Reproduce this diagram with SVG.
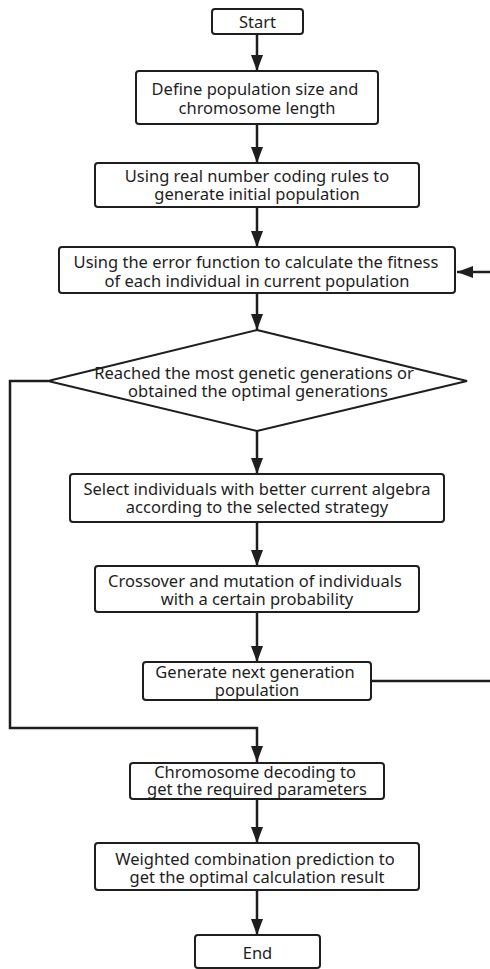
<svg xmlns="http://www.w3.org/2000/svg" width="490" height="969" viewBox="0 0 490 969">
<defs>
<marker id="ah" viewBox="0 0 16 12" refX="16" refY="6" markerWidth="16" markerHeight="12" orient="auto" markerUnits="userSpaceOnUse">
<path d="M0 0 L16 6 L0 12 Z" fill="#1e1e1e"/>
</marker>
<style>
.box{fill:#fff;stroke:#1e1e1e;stroke-width:2}
.t{font-family:"Noto Sans","Open Sans","DejaVu Sans",sans-serif;font-size:16.5px;fill:#1e1e1e;text-anchor:middle}
.c{fill:none;stroke:#1e1e1e;stroke-width:2.5}
</style>
</defs>
<rect width="490" height="969" fill="#fff"/>
<g id="connectors">
<path class="c" d="M257 34 V71" marker-end="url(#ah)"/>
<path class="c" d="M257 124 V163" marker-end="url(#ah)"/>
<path class="c" d="M257 207 V247" marker-end="url(#ah)"/>
<path class="c" d="M257 293 V330" marker-end="url(#ah)"/>
<path class="c" d="M257 431 V474" marker-end="url(#ah)"/>
<path class="c" d="M257 522 V566" marker-end="url(#ah)"/>
<path class="c" d="M257 612 V662" marker-end="url(#ah)"/>
<path class="c" d="M371 681 H491.5 V272 H457" marker-end="url(#ah)"/>
<path class="c" d="M48 381 H10 V728 H257 V762" marker-end="url(#ah)"/>
<path class="c" d="M257 799 V843" marker-end="url(#ah)"/>
<path class="c" d="M257 890 V935" marker-end="url(#ah)"/>
</g>
<g id="start">
<rect class="box" x="212" y="9" width="91" height="25" rx="3"/>
<text class="t" x="257.5" y="28">Start</text>
</g>
<g id="define">
<rect class="box" x="136" y="71" width="242" height="53" rx="3"/>
<text class="t" x="255" y="95">Define population size and</text>
<text class="t" x="257" y="114">chromosome length</text>
</g>
<g id="coding">
<rect class="box" x="95" y="163" width="324" height="44" rx="3"/>
<text class="t" x="257" y="182">Using real number coding rules to</text>
<text class="t" x="257" y="200">generate initial population</text>
</g>
<g id="fitness">
<rect class="box" x="59" y="247" width="396" height="46" rx="3"/>
<text class="t" x="256" y="268">Using the error function to calculate the fitness</text>
<text class="t" x="257" y="287">of each individual in current population</text>
</g>
<g id="decision">
<path class="box" d="M257 330 L467 381 L257 431 L48 381 Z"/>
<text class="t" x="254" y="379">Reached the most genetic generations or</text>
<text class="t" x="258" y="397">obtained the optimal generations</text>
</g>
<g id="select">
<rect class="box" x="70" y="474" width="374" height="48" rx="3"/>
<text class="t" x="257" y="495">Select individuals with better current algebra</text>
<text class="t" x="257" y="513">according to the selected strategy</text>
</g>
<g id="crossover">
<rect class="box" x="95" y="566" width="324" height="46" rx="3"/>
<text class="t" x="255" y="587">Crossover and mutation of individuals</text>
<text class="t" x="257" y="605">with a certain probability</text>
</g>
<g id="nextgen">
<rect class="box" x="143" y="662" width="228" height="38" rx="3"/>
<text class="t" x="255" y="678">Generate next generation</text>
<text class="t" x="257" y="696">population</text>
</g>
<g id="decode">
<rect class="box" x="130" y="763" width="254" height="36" rx="3"/>
<text class="t" x="255" y="778">Chromosome decoding to</text>
<text class="t" x="257" y="795">get the required parameters</text>
</g>
<g id="weighted">
<rect class="box" x="95" y="843" width="324" height="47" rx="3"/>
<text class="t" x="255" y="865">Weighted combination prediction to</text>
<text class="t" x="257" y="883">get the optimal calculation result</text>
</g>
<g id="end">
<rect class="box" x="195" y="935" width="125" height="33" rx="3"/>
<text class="t" x="257.5" y="959">End</text>
</g>
</svg>
